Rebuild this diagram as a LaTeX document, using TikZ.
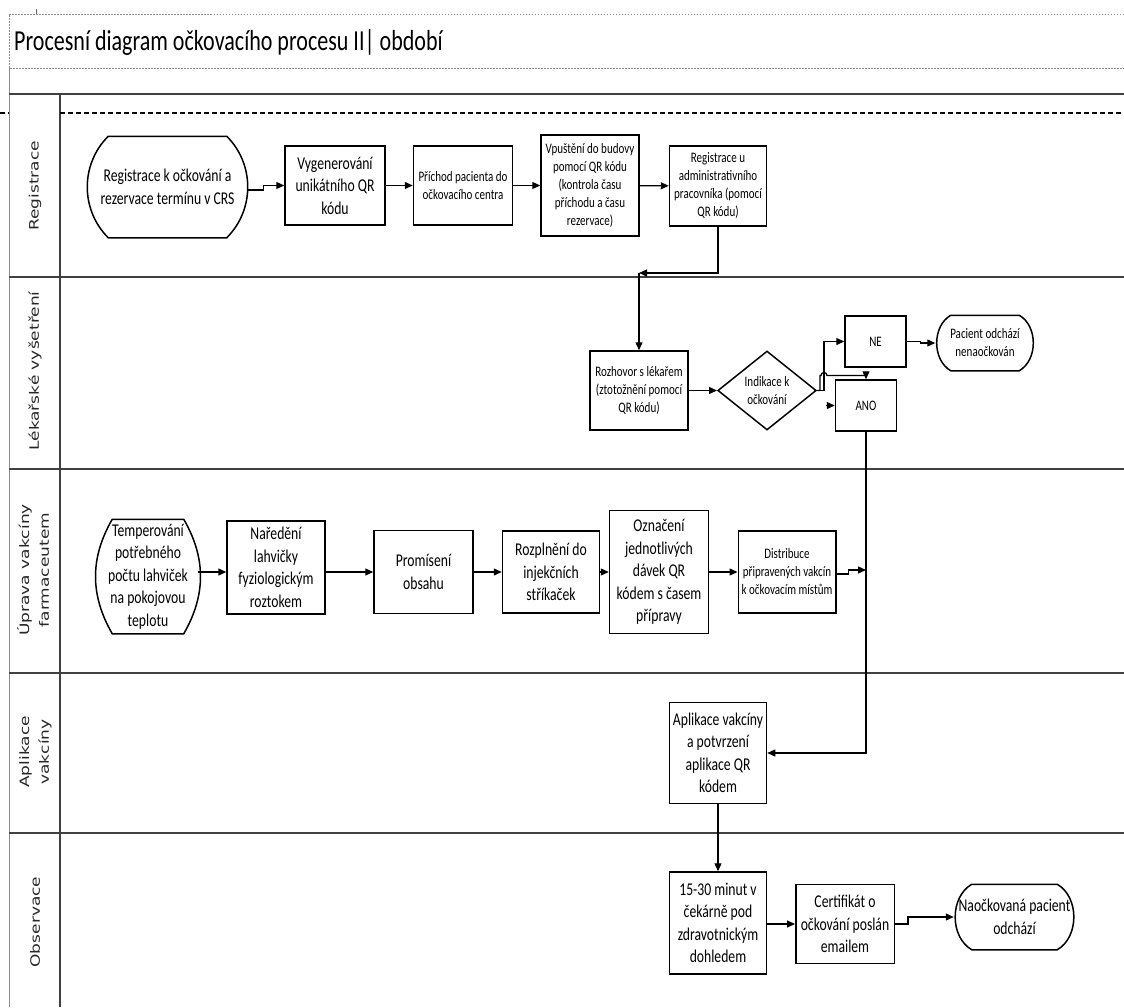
\documentclass[tikz,border=0pt]{standalone}
\usepackage{fontspec}
\setmainfont{Carlito}[FakeStretch=0.76]
\newfontfamily\lanefont{DejaVu Sans}
\usetikzlibrary{shapes.geometric,arrows.meta}

\newcommand\boxtxt{\fontsize{18}{22.5}\selectfont}
\newcommand\notetxt{\fontsize{14.5}{18}\selectfont}
\newcommand\lanetxt{\lanefont\fontsize{17}{26}\selectfont}
% outline of a terminator: straight top and bottom, arcs left and right
\newcommand\termline[2]{\draw[line width=1.5pt] (#1.north west) -- (#1.north east)
  to[bend left=#2] (#1.south east) -- (#1.south west) to[bend left=#2] (#1.north west) -- cycle;}

\tikzset{
  lane/.style={draw=black!75, line width=1.5pt},
  guide/.style={draw=black!45, line width=0.8pt, dash pattern=on 1.5pt off 1.5pt},
  lanelabel/.style={rotate=90, font=\lanetxt, text=black!85},
  box/.style={draw, line width=1.5pt, align=center, inner sep=1pt, font=\boxtxt},
  note/.style={box, font=\notetxt},
  term/.style={box, draw=none},
  flow/.style={-{Triangle[length=8pt,width=7pt]}, line width=1.3pt},
}

\begin{document}
\begin{tikzpicture}[x=1pt,y=-1pt]
\useasboundingbox (0,0) rectangle (1124,1007);
% title
\draw[guide] (1124,14) -- (9,14) -- (9,68) -- (1124,68);
\draw[black!60, line width=0.8pt] (36,9) -- (36,14);
\node[anchor=base west, inner sep=0, font=\fontsize{29}{35}\selectfont] (title) at (14,50)
  {Procesní diagram očkovacího procesu II| období};
% lanes
\draw[black!45, line width=0.8pt] (9,68) -- (9,1007);
\foreach \y in {94,277,469,673,833} \draw[lane] (9,\y) -- (1124,\y);
\draw[lane] (60,94) -- (60,1007);
\draw[line width=1.1pt, dash pattern=on 5pt off 3pt] (0,113) -- (9,113) (60,113) -- (1124,113);
\node[lanelabel] (lreg) at (35,186) {\scalebox{1}[0.76]{Registrace}};
\node[lanelabel] (lexam) at (35,371) {\scalebox{1}[0.76]{Lékařské vyšetření}};
\node[lanelabel] (lprep) at (35,570) {\scalebox{1}[0.76]{\begin{tabular}{@{}c@{}}Úprava vakcíny\\farmaceutem\end{tabular}}};
\node[lanelabel] (lapp) at (35,752) {\scalebox{1}[0.76]{\begin{tabular}{@{}c@{}}Aplikace\\vakcíny\end{tabular}}};
\node[lanelabel] (lobs) at (35,922) {\scalebox{1}[0.76]{Observace}};

% Registrace
\node[term, inner xsep=-10pt, minimum width=117pt, minimum height=100pt] (crs) at (167.5,187)
  {Registrace k očkování a\\rezervace termínu v CRS};
\termline{crs}{45}
\node[box, minimum width=100pt, minimum height=79pt] (qr) at (335,185.5) {Vygenerování\\unikátního QR\\kódu};
\node[note, minimum width=99pt, minimum height=79pt] (arrive) at (463,185.5) {Příchod pacienta do\\očkovacího centra};
\node[note, minimum width=98pt, minimum height=101pt] (entry) at (590,185.5)
  {Vpuštění do budovy\\pomocí QR kódu\\(kontrola času\\příchodu a času\\rezervace)};
\node[note, minimum width=97pt, minimum height=80pt] (admin) at (718,186)
  {Registrace u\\administrativního\\pracovníka (pomocí\\QR kódu)};
\draw[flow] ([xshift=20.5pt,yshift=-3pt]crs.east) -- ++(16,0) |- (qr.west);
\draw[flow] (qr) -- (arrive);
\draw[flow] (arrive) -- (entry);
\draw[flow] (entry) -- (admin);

% Lekarske vysetreni
\node[note, minimum width=98pt, minimum height=79pt] (doctor) at (639,390.5)
  {Rozhovor s lékařem\\(ztotožnění pomocí\\QR kódu)};
\node[note, diamond, aspect=1.25, inner sep=0pt, minimum width=98.5pt, minimum height=79pt] (indic) at (767,390.5)
  {Indikace k\\očkování};
\node[note, minimum width=61pt, minimum height=51pt] (no) at (875.5,341.5) {NE};
\node[note, minimum width=61pt, minimum height=51pt] (yes) at (866,405.5) {ANO};
\node[term, font=\notetxt, inner xsep=-2pt, minimum width=67pt, minimum height=54pt] (leave) at (985,343)
  {Pacient odchází\\nenaočkován};
\termline{leave}{60}
\coordinate (turn) at (639,273);
\draw[flow] (admin.south) |- (turn);
\draw[flow] (turn) -- (doctor);
\draw[flow] (doctor) -- (indic);
\draw[flow] (indic.east) -- ++(7,0) |- (no.west);
\draw[flow] (indic.east) -- ++(3,0) -- ++(0,-15) -- ++(1,0) arc(180:360:3) -| (yes.north);
\draw[flow] ([xshift=-9pt]yes.west) -- (yes.west);
\draw[flow] (no.east) -- ++(14,0) |- ([xshift=-15.5pt]leave.west);

% Uprava vakciny
\node[term, inner xsep=-6pt, minimum width=70pt, minimum height=113pt] (temper) at (148,576.5)
  {Temperování\\potřebného\\počtu lahviček\\na pokojovou\\teplotu};
\termline{temper}{30}
\node[box, minimum width=98pt, minimum height=93pt] (dilute) at (276,567.5) {Naředění\\lahvičky\\fyziologickým\\roztokem};
\node[box, minimum width=99pt, minimum height=83pt] (mix) at (423.5,572) {Promísení\\obsahu};
\node[box, minimum width=97pt, minimum height=82pt] (fill) at (551,572) {Rozplnění do\\injekčních\\stříkaček};
\node[box, minimum width=99pt, minimum height=123pt] (tag) at (659,572)
  {Označení\\jednotlivých\\dávek QR\\kódem s časem\\přípravy};
\node[note, minimum width=97.5pt, minimum height=82pt] (distrib) at (787,572)
  {Distribuce\\připravených vakcín\\k očkovacím místům};
\coordinate (merge) at (866,570);
\draw[flow] ([xshift=14pt]temper.east |- mix) -- (dilute.west |- mix);
\draw[flow] (dilute.east |- mix) -- (mix);
\draw[flow] (mix) -- (fill);
\draw[flow] (fill) -- (tag);
\draw[flow] (tag) -- (distrib);
\draw[flow] ([yshift=-2pt]distrib.east) -- ++(12,0) |- (merge);

% Aplikace, Observace
\node[box, minimum width=97pt, minimum height=101pt] (inject) at (718,753)
  {Aplikace vakcíny\\a potvrzení\\aplikace QR\\kódem};
\node[box, minimum width=97pt, minimum height=102pt] (wait) at (718,923)
  {15-30 minut v\\čekárně pod\\zdravotnickým\\dohledem};
\node[box, minimum width=98.5pt, minimum height=79pt] (cert) at (845,924)
  {Certifikát o\\očkování poslán\\emailem};
\node[term, inner xsep=-15pt, minimum width=84pt, minimum height=64pt] (done) at (1014.5,917)
  {Naočkovaná pacient\\odchází};
\termline{done}{60}
\draw[flow] (yes.south) |- (inject.east);
\draw[flow] (inject) -- (wait);
\draw[flow] (wait.east |- cert) -- (cert);
\draw[flow] (cert.east) -- ++(13,0) |- ([xshift=-18pt]done.west);
\end{tikzpicture}
\end{document}
